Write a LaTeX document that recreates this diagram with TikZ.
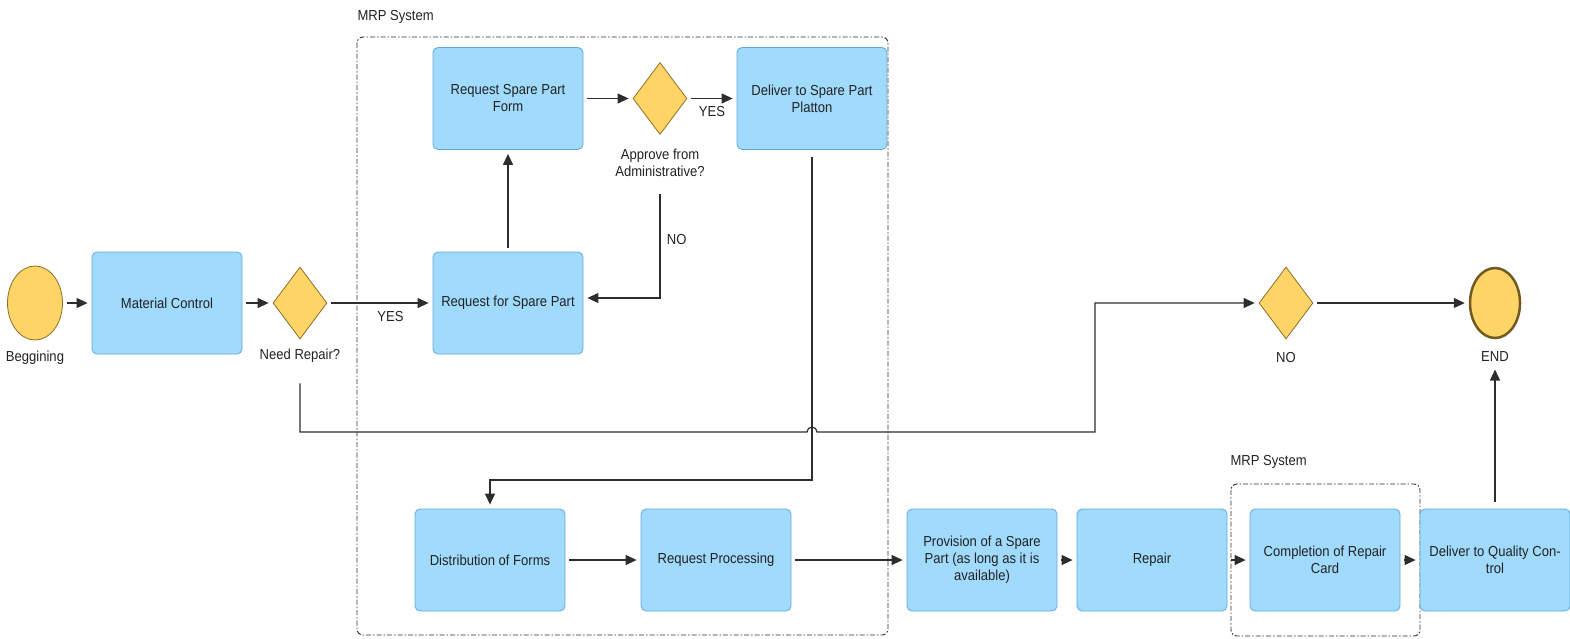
\documentclass[tikz,border=0pt]{standalone}
\usepackage{fontspec}
\setmainfont[FakeStretch=0.9]{Liberation Sans}
\usepackage{tikz}
\usetikzlibrary{positioning}
\usetikzlibrary{shapes.geometric}
\usetikzlibrary{arrows.meta}
\usepackage{xcolor}

\definecolor{boxfill}{RGB}{160,218,252}
\definecolor{boxline}{RGB}{100,168,218}
\definecolor{gatefill}{RGB}{255,212,102}
\definecolor{gateline}{RGB}{140,112,40}
\definecolor{flowline}{RGB}{45,45,45}
\definecolor{txt}{RGB}{34,34,34}

\begin{document}
\begin{tikzpicture}[
    x=1pt, y=-1pt,
    font=\fontsize{14.5}{17}\selectfont, text=txt,
    task/.style={rectangle, draw=boxline, fill=boxfill, rounded corners=5pt, line width=0.8pt,
                 minimum width=150pt, minimum height=102pt, align=center},
    gate/.style={diamond, draw=gateline, fill=gatefill, line width=0.8pt, inner sep=0pt,
                 minimum width=54pt, minimum height=72pt},
    event/.style={ellipse, draw=gateline, fill=gatefill, line width=0.8pt, inner sep=0pt,
                  minimum width=55pt, minimum height=74pt},
    arrow/.style={-{Triangle[length=11pt,width=10pt]}, draw=flowline, line width=1.2pt,
                  shorten <=4pt, shorten >=4pt},
    link/.style={draw=flowline, line width=1.2pt},
    group/.style={draw=flowline, line width=0.9pt, rounded corners=6pt,
                  dash pattern=on 5pt off 2pt on 1.5pt off 2pt}
]
    \useasboundingbox (0,0) rectangle (1570,638);

    % MRP system groups
    \draw[group] (357,37) rectangle (888,635);
    \node[anchor=west] (mrp1) at (354,17) {MRP System};
    \draw[group] (1231,484) rectangle (1420,636);
    \node[anchor=west] (mrp2) at (1227,462) {MRP System};

    % Upper row
    \node[event] (begin) at (35,303) {};
    \node (beginlbl) at (35,358) {Beggining};
    \node[task] (matctl) at (167,303) {Material Control};
    \node[gate] (repair) at (300,303) {};
    \node (repairlbl) at (300,356) {Need Repair?};
    \node[task] (reqspare) at (508,303) {Request for Spare Part};
    \node[task] (reqform) at (508,98.5) {Request Spare Part\\Form};
    \node[gate] (approve) at (660,98.5) {};
    \node[align=center] (approvelbl) at (660,163) {Approve from\\Administrative?};
    \node[task] (platoon) at (812,98.5) {Deliver to Spare Part\\Platton};
    \node[gate] (nogate) at (1286,303) {};
    \node (nolbl) at (1286,357) {NO};
    \node[event, line width=2.5pt, draw=gateline!80!black, minimum width=50pt, minimum height=70pt] (finish) at (1495,303) {};
    \node (finishlbl) at (1495,357) {END};

    % Lower row
    \node[task] (distrib) at (490,560) {Distribution of Forms};
    \node[task] (process) at (716,560) {Request Processing};
    \node[task] (provision) at (982,560) {Provision of a Spare\\Part (as long as it is\\available)};
    \node[task] (fix) at (1152,560) {Repair};
    \node[task] (card) at (1325,560) {Completion of Repair\\Card};
    \node[task] (quality) at (1495,560) {Deliver to Quality Con-\\trol};

    % Flow
    \draw[arrow] (begin) -- (matctl);
    \draw[arrow] (matctl) -- (repair);
    \draw[arrow] (repair) -- node[below=4pt, pos=0.6] {YES} (reqspare);
    \draw[arrow] (reqspare) -- (reqform);
    \draw[arrow] (reqform) -- (approve);
    \draw[arrow] (approve) -- node[below=4pt, pos=0.5] {YES} (platoon);
    \draw[arrow, shorten <=14pt] (approvelbl.south) |- node[pos=0.25, right=3pt] {NO} ([yshift=5pt]reqspare.east);
    \draw[arrow, shorten <=7pt] (platoon.south) -- (812,480) -| (distrib.north);
    \draw[arrow] (distrib) -- (process);
    \draw[arrow] (process) -- (provision);
    \draw[arrow] (provision) -- (fix);
    \draw[arrow] (fix) -- (card);
    \draw[arrow] (card) -- (quality);
    \draw[arrow, shorten <=7pt] (quality.north) -- (finishlbl);
    \draw[arrow] (nogate) -- (finish);

    % NO branch, hopping over the platoon line
    \coordinate (hop) at (807,432);
    \coordinate (turn) at (1095,432);
    \draw[link, -{Triangle[length=11pt,width=10pt]}, shorten <=17pt, shorten >=4pt]
        (repairlbl.south) |- (hop) arc (180:0:5pt) -- (turn) |- (nogate.west);
\end{tikzpicture}
\end{document}
